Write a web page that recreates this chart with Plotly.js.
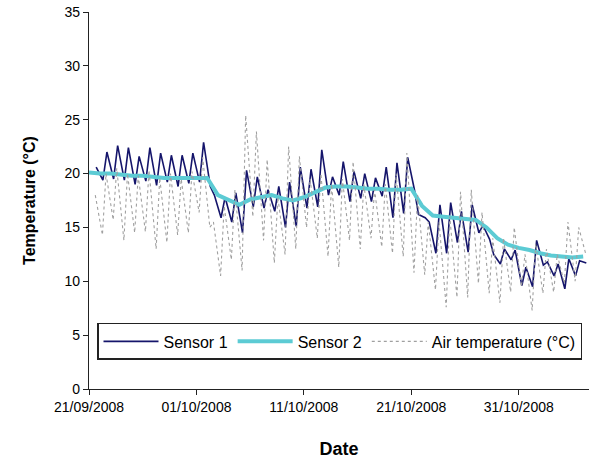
<!DOCTYPE html>
<html>
<head>
<meta charset="utf-8">
<script src="https://cdn.plot.ly/plotly-3.0.1.min.js"></script>
<style>html,body{margin:0;padding:0;background:#fff;}#chart{width:591px;height:462px;}</style>
</head>
<body>
<div id="chart"></div>
<script>
// Days from 21/09/2008 to 06/11/2008
const days = [
 '2008-09-21','2008-09-22','2008-09-23','2008-09-24','2008-09-25','2008-09-26','2008-09-27','2008-09-28','2008-09-29','2008-09-30',
 '2008-10-01','2008-10-02','2008-10-03','2008-10-04','2008-10-05','2008-10-06','2008-10-07','2008-10-08','2008-10-09','2008-10-10',
 '2008-10-11','2008-10-12','2008-10-13','2008-10-14','2008-10-15','2008-10-16','2008-10-17','2008-10-18','2008-10-19','2008-10-20',
 '2008-10-21','2008-10-22','2008-10-23','2008-10-24','2008-10-25','2008-10-26','2008-10-27','2008-10-28','2008-10-29','2008-10-30',
 '2008-10-31','2008-11-01','2008-11-02','2008-11-03','2008-11-04','2008-11-05','2008-11-06'
];
// Sensor 1: morning low and afternoon high of each day (°C)
const sensor1Low = [null,19.4,19.5,19.4,19.0,19.3,18.9,19.2,18.8,19.1,
 19.2,18.8,15.9,15.5,14.5,16.9,16.8,16.5,15.0,15.1,
 16.8,16.9,18.0,18.0,17.4,17.7,17.4,17.9,15.9,16.3,
 18.5,15.9,12.6,12.6,13.6,12.7,14.5,13.9,11.6,12.0,
 9.6,9.5,11.5,10.5,9.3,10.5,11.7];
const sensor1High = [20.6,22.0,22.6,22.4,21.6,22.4,21.9,21.7,21.7,21.9,
 22.9,18.0,17.8,18.2,20.3,19.7,18.5,18.8,19.2,20.6,
 20.4,22.2,19.7,21.1,20.2,20.0,19.6,20.6,21.0,21.5,
 16.2,15.5,17.1,17.3,16.5,17.1,15.2,12.5,13.0,12.9,
 11.3,13.8,11.8,11.6,12.1,11.9,null];
// Sensor 2: daily values (°C)
const sensor2 = [20.1,20.0,20.0,19.9,19.8,19.8,19.7,19.6,19.6,19.6,
 19.6,19.6,18.0,17.5,17.1,17.6,17.8,18.0,17.7,17.5,
 17.8,18.2,18.7,18.8,18.8,18.7,18.6,18.6,18.5,18.5,
 18.6,17.0,16.1,16.0,15.9,15.8,15.7,15.0,14.0,13.4,
 13.1,12.9,12.6,12.4,12.3,12.2,12.3];
// Air temperature: daily minimum and maximum (°C)
const airLow = [null,14.3,15.7,13.8,14.5,14.6,13.0,13.6,14.3,14.5,
 16.4,15.0,10.5,12.0,11.0,16.0,13.8,11.7,12.5,13.0,
 15.0,14.0,12.3,11.3,13.8,13.0,14.0,13.2,12.6,12.3,
 10.8,10.6,9.2,7.6,8.5,8.5,9.8,8.9,8.0,9.0,
 9.5,7.3,8.9,9.0,9.8,10.0,12.5];
const airHigh = [18.0,20.0,20.5,20.0,19.8,20.3,19.6,20.0,19.5,20.2,
 21.5,15.5,17.0,18.5,25.4,23.9,21.3,17.8,22.5,21.6,
 19.5,20.0,19.0,19.5,21.1,19.0,18.5,19.0,20.0,21.9,
 18.0,15.5,15.5,16.0,18.3,18.5,16.4,14.0,14.0,15.0,
 12.5,13.5,13.0,12.5,15.5,15.0,null];

function series(lowArr, highArr, lowHour, highHour){
  const x=[], y=[];
  days.forEach((d,i)=>{
    if(lowArr[i]!==null){x.push(d+' '+lowHour); y.push(lowArr[i]);}
    if(highArr[i]!==null){x.push(d+' '+highHour); y.push(highArr[i]);}
  });
  return {x,y};
}
const s1 = series(sensor1Low, sensor1High, '07:00', '16:00');
const air = series(airLow, airHigh, '06:00', '14:00');

const traces = [
  {x:s1.x, y:s1.y, name:'Sensor 1', mode:'lines', line:{color:'#15156b', width:1.6}},
  {x:days, y:sensor2, name:'Sensor 2', mode:'lines', line:{color:'#5ccbd4', width:4}},
  {x:air.x, y:air.y, name:'Air temperature (°C)', mode:'lines', line:{color:'#a0a0a0', width:1.1, dash:'dot'}}
];

const layout = {
  width:591, height:462,
  margin:{l:89, r:2, t:12, b:73},
  paper_bgcolor:'#fff', plot_bgcolor:'#fff',
  font:{family:'Liberation Sans, Arial, sans-serif', size:13, color:'#000'},
  showlegend:true,
  legend:{orientation:'h', x:0.016, xanchor:'left', y:0.077, yanchor:'bottom',
    bordercolor:'#222', borderwidth:1.5, bgcolor:'#fff', font:{size:16}, itemwidth:55,
    tracegroupgap:0},
  xaxis:{type:'date', range:['2008-09-21 00:00','2008-11-06 13:00'],
    tick0:'2008-09-21', dtick:864000000, tickformat:'%d/%m/%Y',
    showgrid:false, zeroline:false, showline:true, linecolor:'#222', linewidth:1.2,
    ticks:'outside', ticklen:5, tickcolor:'#222', tickfont:{size:14},
    title:{text:'<b>Date</b>', font:{size:18}, standoff:28}},
  yaxis:{range:[0,35], tick0:0, dtick:5, showgrid:false, zeroline:false,
    showline:true, linecolor:'#222', linewidth:1.2, ticks:'outside', ticklen:5, tickcolor:'#222',
    tickfont:{size:14},
    title:{text:'<b>Temperature (°C)</b>', font:{size:16}, standoff:24}}
};
Plotly.newPlot('chart', traces, layout, {displayModeBar:false, staticPlot:true});
</script>
</body>
</html>
